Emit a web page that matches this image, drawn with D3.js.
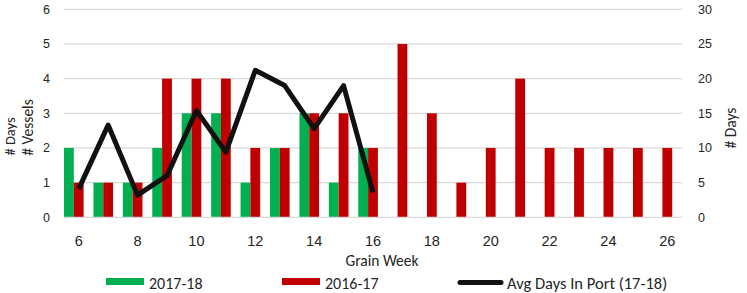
<!DOCTYPE html>
<html>
<head>
<meta charset="utf-8">
<script src="https://cdn.jsdelivr.net/npm/d3@7"></script>
<style>
  html, body { margin: 0; padding: 0; background: #fff; }
  svg { display: block; font-family: Carlito, Lato, "Open Sans", sans-serif; }
</style>
</head>
<body>
<svg id="chart" width="747" height="293"></svg>
<script>
const weeks = [6,7,8,9,10,11,12,13,14,15,16,17,18,19,20,21,22,23,24,25,26];
const vessels1718 = [2,1,1,2,3,3,1,2,3,1,2,0,0,0,0,0,0,0,0,0,0];
const vessels1617 = [1,1,1,4,4,4,2,2,3,3,2,5,3,1,2,4,2,2,2,2,2];
const avgWeeks = [6,7,8,9,10,11,12,13,14,15,16];
const avgDays1718 = [4.1,13.3,3.2,6.0,15.4,9.4,21.2,19.0,12.8,19.0,3.6];
const xTickLabels = [6,8,10,12,14,16,18,20,22,24,26];
const leftTicks = [0,1,2,3,4,5,6];
const rightTicks = [0,5,10,15,20,25,30];
const seriesNames = ["2017-18","2016-17","Avg Days In Port (17-18)"];
const colors = {"2017-18":"#00b050","2016-17":"#c00000","Avg Days In Port (17-18)":"#111111"};

const svg = d3.select("#chart");
const L = 64, R = 682, T = 9.3, B = 217.3;
const textColor = "#262626";

const x = d3.scaleBand().domain(weeks).range([L, R]).padding(0);
const xs = d3.scaleBand().domain(["2017-18","2016-17","_"]).range([0, x.bandwidth()]);
const yL = d3.scaleLinear().domain([0,6]).range([B, T]);
const yR = d3.scaleLinear().domain([0,30]).range([B, T]);

// gridlines
svg.append("g").selectAll("line").data(leftTicks.slice(1)).join("line")
  .attr("x1", L).attr("x2", R)
  .attr("y1", d => yL(d)).attr("y2", d => yL(d))
  .attr("stroke", "#d9d9d9").attr("stroke-width", 1.3);

// bars
const rows = weeks.map((w,i) => ({w, a: vessels1718[i], b: vessels1617[i]}));
const gb = svg.append("g");
gb.selectAll("rect.a").data(rows.filter(r => r.a > 0)).join("rect")
  .attr("x", d => x(d.w) + xs("2017-18")).attr("width", xs.bandwidth())
  .attr("y", d => yL(d.a)).attr("height", d => yL(0) - yL(d.a))
  .attr("fill", colors["2017-18"]);
gb.selectAll("rect.b").data(rows.filter(r => r.b > 0)).join("rect")
  .attr("x", d => x(d.w) + xs("2016-17")).attr("width", xs.bandwidth())
  .attr("y", d => yL(d.b)).attr("height", d => yL(0) - yL(d.b))
  .attr("fill", colors["2016-17"]);

// baseline
svg.append("line").attr("x1", L).attr("x2", R).attr("y1", B).attr("y2", B)
  .attr("stroke", "#d9d9d9").attr("stroke-width", 1.3);

// line
const line = d3.line().x((d,i) => x(avgWeeks[i]) + x.bandwidth()/2).y(d => yR(d));
svg.append("path").datum(avgDays1718).attr("d", line)
  .attr("fill", "none").attr("stroke", colors["Avg Days In Port (17-18)"])
  .attr("stroke-width", 5).attr("stroke-linejoin", "round");

// axes
const xAxis = svg.append("g").attr("transform", `translate(0,${B})`)
  .call(d3.axisBottom(x).tickValues(xTickLabels).tickSize(0).tickPadding(0));
xAxis.select(".domain").remove();
xAxis.selectAll("text").attr("y", 29).attr("dy", 0)
  .attr("font-size", 14.5).attr("fill", textColor).attr("font-family", null);

const yAxisL = svg.append("g").attr("transform", `translate(${L},0)`)
  .call(d3.axisLeft(yL).tickValues(leftTicks).tickFormat(d3.format("d")).tickSize(0).tickPadding(14));
yAxisL.select(".domain").remove();
yAxisL.selectAll("text").attr("font-size", 12.5).attr("fill", textColor).attr("font-family", null);

const yAxisR = svg.append("g").attr("transform", `translate(${R},0)`)
  .call(d3.axisRight(yR).tickValues(rightTicks).tickFormat(d3.format("d")).tickSize(0).tickPadding(16));
yAxisR.select(".domain").remove();
yAxisR.selectAll("text").attr("font-size", 12.5).attr("fill", textColor).attr("font-family", null);

// axis titles
svg.append("text").attr("x", 382).attr("y", 265.5).attr("text-anchor", "middle")
  .attr("font-size", 15.5).attr("fill", textColor).text("Grain Week");
svg.append("text").attr("transform", "translate(33,127.5) rotate(-90)").attr("text-anchor", "middle")
  .attr("font-size", 15.5).attr("fill", textColor).text("# Vessels");
svg.append("text").attr("transform", "translate(15,136.5) rotate(-90)").attr("text-anchor", "middle")
  .attr("font-size", 14.5).attr("fill", textColor).text("# Days");
svg.append("text").attr("transform", "translate(736,128) rotate(-90)").attr("text-anchor", "middle")
  .attr("font-size", 15.5).attr("fill", textColor).text("# Days");

// legend
const lg = svg.append("g");
const legX = [106, 282, 458];
seriesNames.forEach((name, i) => {
  const g = lg.append("g").attr("transform", `translate(${legX[i]},0)`);
  if (i < 2) {
    g.append("rect").attr("x", 0).attr("y", 278).attr("width", 38).attr("height", 7).attr("fill", colors[name]);
    g.append("text").attr("x", 43).attr("y", 289).attr("font-size", 16).attr("fill", textColor).text(name);
  } else {
    g.append("line").attr("x1", 2).attr("x2", 43).attr("y1", 282.5).attr("y2", 282.5)
      .attr("stroke", colors[name]).attr("stroke-width", 5).attr("stroke-linecap", "round");
    g.append("text").attr("x", 49).attr("y", 289).attr("font-size", 16.5).attr("fill", textColor).text(name);
  }
});
</script>
</body>
</html>
